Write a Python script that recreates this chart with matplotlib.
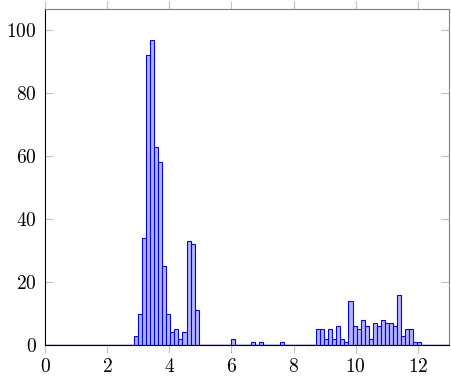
import numpy as np
import matplotlib
matplotlib.use("Agg")
import matplotlib.pyplot as plt

plt.rcParams['mathtext.fontset'] = 'cm'
plt.rcParams['font.family'] = 'serif'
plt.rcParams['font.serif'] = ['DejaVu Serif']

# histogram bins (71 bins from 2.86 to 12.11)
bin_start = 2.86
bin_end = 12.11
n_bins = 71
counts = [0] * n_bins
cluster1 = [3, 10, 34, 92, 97, 63, 58, 25, 10, 4, 5, 2, 4, 33, 32, 11]
counts[0:16] = cluster1
counts[24] = 2
counts[29] = 1
counts[31] = 1
counts[36] = 1
cluster2 = [5, 5, 2, 5, 2, 6, 2, 1, 14, 6, 5, 8, 6, 2, 7, 6, 8, 7, 7, 6, 16, 3, 5, 5, 1, 1]
counts[45:71] = cluster2

xticks = [0, 2, 4, 6, 8, 10, 12]
yticks = [0, 20, 40, 60, 80, 100]

edges = np.linspace(bin_start, bin_end, n_bins + 1)
widths = np.diff(edges)

fig = plt.figure(figsize=(4.51, 3.82), dpi=100)
ax = fig.add_axes([45/451, 1 - 345/382, 404/451, 336/382])

ax.axhline(0, color='#0000ff', lw=1.0, zorder=1)
ax.bar(edges[:-1], counts, width=widths, align='edge',
       facecolor='#b3b3ff', edgecolor='#0000ff', linewidth=0.8, zorder=2)

ax.set_xlim(0, 13)
ax.set_ylim(0, 106.7)
ax.set_xticks(xticks)
ax.set_yticks(yticks)
ax.set_xticklabels([f'${t}$' for t in xticks])
ax.set_yticklabels([f'${t}$' for t in yticks])

ax.tick_params(axis='x', direction='out', top=True, bottom=True, length=6,
               color='#c0c0c0', width=0.8, labelsize=14, pad=3)
ax.tick_params(axis='y', direction='in', left=True, right=True, length=6,
               color='#c0c0c0', width=0.8, labelsize=14, pad=6)

for side in ['left', 'bottom']:
    ax.spines[side].set_color('black')
    ax.spines[side].set_linewidth(0.8)
for side in ['top', 'right']:
    ax.spines[side].set_color('#808080')
    ax.spines[side].set_linewidth(0.8)

fig.savefig('out.png', dpi=100)
